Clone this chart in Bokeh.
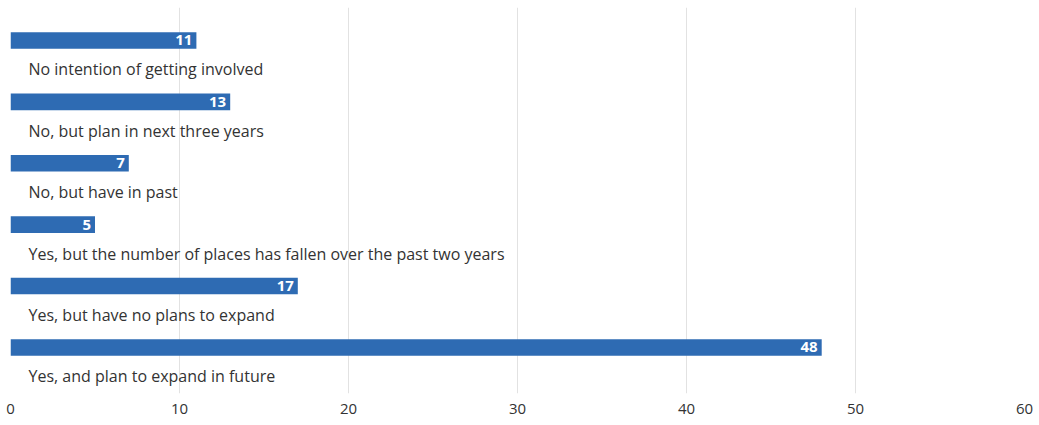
from bokeh.plotting import figure
from bokeh.models import ColumnDataSource, Range1d, FixedTicker
from bokeh.core.properties import value
from bokeh.embed import file_html
from bokeh.resources import INLINE

categories = [
    "No intention of getting involved",
    "No, but plan in next three years",
    "No, but have in past",
    "Yes, but the number of places has fallen over the past two years",
    "Yes, but have no plans to expand",
    "Yes, and plan to expand in future",
]
values = [11, 13, 7, 5, 17, 48]
x_ticks = [0, 10, 20, 30, 40, 50, 60]

FONT = "Open Sans"
BAR = "#2e6bb3"
TEXT = "#333333"

pos = list(range(len(categories)))
src = ColumnDataSource(dict(
    y=pos,
    v=values,
    zero=[0] * len(values),
    cat=categories,
    vlab=[str(v) for v in values],
))

p = figure(
    frame_width=1014, frame_height=386,
    x_range=Range1d(0, 60), y_range=Range1d(5.750, -0.537),
    output_backend="svg", toolbar_location=None,
    min_border_left=10, min_border_right=12, min_border_top=7, min_border_bottom=0,
)
p.outline_line_color = None
p.background_fill_color = "white"
p.border_fill_color = "white"

p.hbar(y="y", left=0, right="v", height=0.27, source=src, color=BAR, line_color=None)

p.text(x="v", y="y", text="vlab", source=src, x_offset=-4,
       text_align="right", text_baseline="middle",
       text_font=value(FONT), text_font_size="15px", text_font_style="bold",
       text_color="white")

p.text(x="zero", y="y", text="cat", source=src, x_offset=18, y_offset=29,
       text_align="left", text_baseline="middle",
       text_font=value(FONT), text_font_size="16px", text_color=TEXT)

p.yaxis.visible = False
p.ygrid.grid_line_color = None
p.xgrid.grid_line_color = "#e2e2e2"
p.xgrid.grid_line_width = 1
p.xaxis.ticker = FixedTicker(ticks=x_ticks)
p.xaxis.axis_line_color = None
p.xaxis.major_tick_line_color = None
p.xaxis.minor_tick_line_color = None
p.xaxis.major_tick_out = 0
p.xaxis.major_tick_in = 0
p.xaxis.major_label_standoff = 10
p.xaxis.major_label_text_font = FONT
p.xaxis.major_label_text_font_size = "15px"
p.xaxis.major_label_text_color = TEXT

open("out.html", "w").write(file_html(p, INLINE))
